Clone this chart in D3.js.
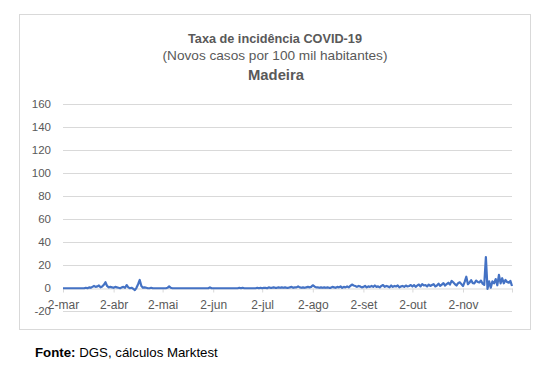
<!DOCTYPE html>
<html><head><meta charset="utf-8">
<script src="https://cdn.jsdelivr.net/npm/d3@7"></script>
<style>body{margin:0;background:#fff}svg{display:block}</style>
</head><body>
<svg id="c" width="552" height="378"></svg>
<script>
const titleText = "Taxa de incidência COVID-19";
const subtitleText = "(Novos casos por 100 mil habitantes)";
const regionText = "Madeira";
const startDate = "2020-03-02";
const yTicks = [-20, 0, 20, 40, 60, 80, 100, 120, 140, 160];
const xTickLabels = ["2-mar","2-abr","2-mai","2-jun","2-jul","2-ago","2-set","2-out","2-nov",""];
const xTickDates = ["2020-03-02","2020-04-02","2020-05-02","2020-06-02","2020-07-02","2020-08-02","2020-09-02","2020-10-02","2020-11-02","2020-12-02"];
// daily values, 2-mar .. 2-dez
const marValues = [0,0,0,0,0,0,0,0,0,0,0,0,0,0,0.4,0,0.8,0.4,1.2,2,1.2,1.6,2.4,0.8,1.6,3,5.2,2,0.8,1.2,0.8];
const aprValues = [0.4,1.2,0.8,0.4,0,0.8,1.2,0.4,2.8,0.8,0,0.4,-0.4,-1.6,0.4,3.5,7.2,2,0.4,0.8,0.4,0,0,0.4,0,0,0,0,0,0];
const mayValues = [0,0,0,0.4,1.6,0.4,0,0,0,0,0,0,0,0,0,0,0,0,0,0,0,0,0,0,0,0,0,0,0,0.8,0];
const junValues = [0,0,0,0,0,0,0,0,0,0,0,0,0,0,0,0,0.4,0,0.4,0,0,0,0,0,0,0,0,0.4,0,0.4];
const julValues = [0,0.4,0.4,0,0.8,0.4,0.4,0.8,0.4,0.4,0.8,0.4,0.8,0.4,0.8,0.4,0.4,0.8,1.2,0.4,0.8,0.8,1.6,0.8,0.4,0.8,0.4,0.8,1.2,0.8,1.2];
const augValues = [2.6,1.6,0.8,0.8,0.4,0.8,0.4,0.8,0.4,0.8,0.4,0.4,1.2,0.8,0.4,1.2,0.8,1.6,0.4,1.2,0.8,1.6,0.8,2.0,3.2,2.4,2.0,1.2,2.0,1.6,0.8];
const sepValues = [1.2,2.0,0.8,1.6,1.2,2.0,1.2,2.4,1.2,1.6,0.8,2.0,2.8,1.2,2.0,1.6,0.8,2.4,1.2,2.0,1.6,2.4,0.8,1.6,2.0,1.2,2.4,1.6,2.0,2.8];
const octValues = [1.5,2.8,1.2,2.4,3.2,1.6,3.6,2.4,2.8,1.6,3.2,2.0,2.8,3.6,1.6,2.4,4.0,2.0,3.2,4.4,2.4,3.6,4.8,3.2,6.4,5.2,3.6,2.4,4.4,5.2,3.6];
const novValues = [2.0,5.5,10.0,3.5,5.0,7.0,4.5,4.3,6.7,5.5,5.0,6.7,4.0,3.0,27.0,-0.5,6.0,0.5,6.0,4.3,8.0,2.6,11.6,4.3,8.7,4.3,7.2,5.5,4.9,6.4,2.0];

const values = [].concat(marValues, aprValues, mayValues, junValues, julValues, augValues, sepValues, octValues, novValues);
const parse = d3.timeParse("%Y-%m-%d");
const t0 = parse(startDate);
const data = values.map((v, i) => ({date: d3.timeDay.offset(t0, i), value: v}));

const svg = d3.select("#c");
const grey = "#595959";
const font = "'Liberation Sans', Arial, sans-serif";

// chart frame
svg.append("rect").attr("x", 19.5).attr("y", 14.5).attr("width", 511).attr("height", 315)
  .attr("fill", "#fff").attr("stroke", "#d9d9d9").attr("stroke-width", 1);

const x = d3.scaleTime().domain([parse(xTickDates[0]), parse(xTickDates[xTickDates.length-1])]).range([63, 512]);
const y = d3.scaleLinear().domain([-20, 160]).range([311.3, 104]);

// gridlines
svg.append("g").selectAll("line").data(yTicks.filter(d => d !== 0)).join("line")
  .attr("x1", 63).attr("x2", 512)
  .attr("y1", d => Math.round(y(d)) + 0.5).attr("y2", d => Math.round(y(d)) + 0.5)
  .attr("stroke", "#d9d9d9").attr("stroke-width", 1);

// y labels
svg.append("g").selectAll("text").data(yTicks).join("text")
  .attr("x", 51).attr("y", d => y(d) + 4)
  .attr("text-anchor", "end").attr("fill", grey)
  .style("font-family", font).style("font-size", "11.5px")
  .text(d => d);

// x axis at zero
const xAxis = d3.axisBottom(x)
  .tickValues(xTickDates.map(parse))
  .tickFormat((d, i) => xTickLabels[i])
  .tickSize(4).tickSizeOuter(0);
const gx = svg.append("g").attr("transform", `translate(0,${Math.round(y(0)) + 0.5})`).call(xAxis);
gx.select(".domain").attr("stroke", "#d9d9d9");
gx.selectAll(".tick line").attr("stroke", "#d9d9d9");
gx.selectAll(".tick text").attr("fill", grey).attr("dy", 0).attr("y", 20)
  .style("font-family", font).style("font-size", "12px");

// line
const line = d3.line().x(d => x(d.date)).y(d => y(d.value));
svg.append("path").datum(data).attr("d", line)
  .attr("fill", "none").attr("stroke", "#4472c4").attr("stroke-width", 2.2)
  .attr("stroke-linejoin", "round");

// titles
function fitText(sel, w) {
  const n = sel.node();
  const len = n.getComputedTextLength();
  const fs = parseFloat(sel.style("font-size"));
  sel.style("font-size", (fs * w / len).toFixed(2) + "px");
}
const t1 = svg.append("text").attr("x", 275).attr("y", 43).attr("text-anchor", "middle")
  .attr("fill", grey).style("font-family", font).style("font-weight", "bold").style("font-size", "13px")
  .text(titleText);
fitText(t1, 174);
const t2 = svg.append("text").attr("x", 275).attr("y", 60).attr("text-anchor", "middle")
  .attr("fill", grey).style("font-family", font).style("font-size", "13px")
  .text(subtitleText);
fitText(t2, 225);
const t3 = svg.append("text").attr("x", 276).attr("y", 80).attr("text-anchor", "middle")
  .attr("fill", grey).style("font-family", font).style("font-weight", "bold").style("font-size", "15px")
  .text(regionText);
fitText(t3, 56);

// footer
const ft = svg.append("text").attr("x", 35).attr("y", 357)
  .attr("fill", "#000").style("font-family", font).style("font-size", "13px");
ft.append("tspan").style("font-weight", "bold").text("Fonte:");
ft.append("tspan").text(" DGS, cálculos Marktest");
fitText(ft, 183);
</script>
</body></html>
